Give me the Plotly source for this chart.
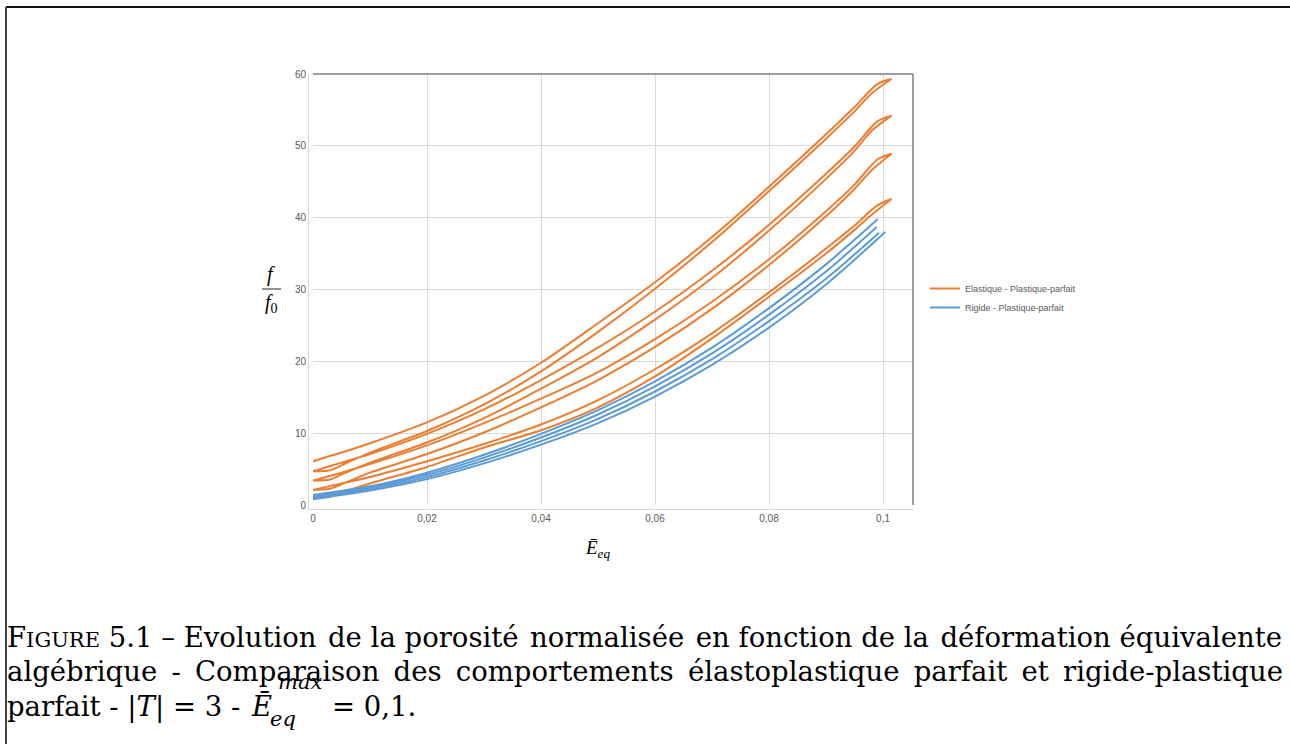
import plotly.graph_objects as go

# ---------------- data ----------------
x_load = [0, 0.003, 0.006, 0.01, 0.02, 0.03, 0.04, 0.05, 0.06, 0.07, 0.08, 0.09, 0.095, 0.098, 0.1015]
x_unload = [0.1015, 0.099, 0.095, 0.09, 0.08, 0.07, 0.06, 0.05, 0.04, 0.03, 0.02, 0.01, 0.005, 0]

ep_load_1 = [1.0, 1.15, 2.0, 3.0, 5.3, 8.0, 10.4, 13.6, 17.9, 23.2, 29.0, 35.0, 38.3, 40.4, 42.6]
ep_unload_1 = [42.6, 41.7, 38.9, 35.7, 29.6, 23.9, 18.9, 14.6, 11.2, 8.5, 6.1, 3.9, 3.0, 2.1]
ep_load_2 = [2.1, 2.25, 3.2, 4.5, 7.1, 10.1, 13.6, 17.4, 22.0, 27.3, 33.4, 40.2, 44.0, 46.6, 48.9]
ep_unload_2 = [48.9, 48.1, 44.6, 40.9, 34.2, 28.3, 23.1, 18.5, 14.8, 11.4, 8.3, 5.7, 4.5, 3.4]
ep_load_3 = [3.4, 3.55, 4.6, 5.9, 8.7, 12.1, 16.2, 20.6, 25.8, 31.6, 38.2, 45.4, 49.3, 52.1, 54.2]
ep_unload_3 = [54.2, 53.4, 49.9, 46.1, 39.0, 32.6, 26.9, 21.9, 17.4, 13.3, 9.9, 7.1, 5.9, 4.7]
ep_load_4 = [4.7, 4.85, 5.9, 7.3, 10.3, 14.0, 18.6, 24.1, 30.1, 36.6, 43.7, 51.0, 54.8, 57.3, 59.3]
ep_unload_4 = [59.3, 58.6, 55.4, 51.6, 44.3, 37.3, 31.0, 25.3, 19.8, 15.2, 11.5, 8.6, 7.3, 6.1]

x_rig_1 = [0, 0.01, 0.02, 0.03, 0.04, 0.05, 0.06, 0.07, 0.08, 0.09, 0.0991]
x_rig_2 = [0, 0.01, 0.02, 0.03, 0.04, 0.05, 0.06, 0.07, 0.08, 0.09, 0.0989]
x_rig_3 = [0, 0.01, 0.02, 0.03, 0.04, 0.05, 0.06, 0.07, 0.08, 0.09, 0.0993]
x_rig_4 = [0, 0.01, 0.02, 0.03, 0.04, 0.05, 0.06, 0.07, 0.08, 0.09, 0.1004]
rp_1 = [1.4, 2.6, 4.5, 7.0, 9.9, 13.2, 17.2, 21.9, 27.4, 33.5, 39.8]
rp_2 = [1.2, 2.4, 4.2, 6.6, 9.4, 12.6, 16.5, 21.1, 26.5, 32.5, 38.7]
rp_3 = [1.0, 2.2, 3.9, 6.2, 8.9, 12.0, 15.8, 20.3, 25.6, 31.5, 37.9]
rp_4 = [0.8, 2.0, 3.6, 5.8, 8.4, 11.4, 15.1, 19.5, 24.7, 30.7, 38.0]

x_tickvals = [0, 0.02, 0.04, 0.06, 0.08, 0.1]
x_ticktext = ["0", "0,02", "0,04", "0,06", "0,08", "0,1"]
y_tickvals = [0, 10, 20, 30, 40, 50, 60]

series_names = ["Elastique - Plastique-parfait", "Rigide - Plastique-parfait"]

# ---------------- build paths ----------------
ep_x, ep_y = [], []
for ld, ul in [(ep_load_1, ep_unload_1), (ep_load_2, ep_unload_2),
               (ep_load_3, ep_unload_3), (ep_load_4, ep_unload_4)]:
    ep_x += x_load + x_unload
    ep_y += ld + ul

rp_x, rp_y = [], []
for xs, ys in [(x_rig_1, rp_1), (x_rig_2, rp_2), (x_rig_3, rp_3), (x_rig_4, rp_4)]:
    rp_x += xs + [None]
    rp_y += ys + [None]

W, H = 1290, 744
L, R, T, B = 313, 913, 74, 505


def px(x):
    return (x - L) / (R - L)


def py(y):
    return (B - y) / (B - T)


fig = go.Figure()
fig.add_trace(go.Scatter(x=ep_x, y=ep_y, mode="lines", name=series_names[0],
                         line=dict(color="#ED7D31", width=2, shape="spline", smoothing=0.8)))
fig.add_trace(go.Scatter(x=rp_x, y=rp_y, mode="lines", name=series_names[1],
                         line=dict(color="#5B9BD5", width=2, shape="spline", smoothing=0.8)))

tick_font = dict(family="Liberation Sans, Arial, sans-serif", size=10, color="#595959")
fig.update_xaxes(range=[0, 0.10526], tickvals=x_tickvals, ticktext=x_ticktext,
                 showgrid=True, gridcolor="#D9D9D9", gridwidth=1,
                 zeroline=False, showline=True, linecolor="#D9D9D9", linewidth=1,
                 ticks="", tickfont=tick_font)
fig.update_yaxes(range=[0, 60], tickvals=y_tickvals,
                 showgrid=True, gridcolor="#D9D9D9", gridwidth=1,
                 zeroline=False, showline=True, linecolor="#D9D9D9", linewidth=1,
                 ticks="", tickfont=tick_font)

shapes = [
    # plot area top/right border
    dict(type="line", xref="paper", yref="paper", x0=0, x1=1, y0=1, y1=1,
         line=dict(color="#7F7F7F", width=1.5)),
    dict(type="line", xref="paper", yref="paper", x0=1, x1=1, y0=0, y1=1,
         line=dict(color="#7F7F7F", width=1.5)),
    # outer frame
    dict(type="line", xref="paper", yref="paper", x0=px(6), x1=px(1292), y0=py(7), y1=py(7),
         line=dict(color="#111111", width=2)),
    dict(type="line", xref="paper", yref="paper", x0=px(6), x1=px(6), y0=py(7), y1=py(746),
         line=dict(color="#444444", width=2)),
    # fraction bar of y title
    dict(type="line", xref="paper", yref="paper", x0=px(262), x1=px(281), y0=py(289), y1=py(289),
         line=dict(color="#222222", width=1)),
]

serif = "DejaVu Serif, Liberation Serif, serif"
math = "Liberation Serif, DejaVu Serif, serif"
ann = []


def add(text, x, y, size, family=serif, xanchor="left", yanchor="middle", color="#000000"):
    ann.append(dict(text=text, x=px(x), y=py(y), xref="paper", yref="paper", showarrow=False,
                    xanchor=xanchor, yanchor=yanchor,
                    font=dict(family=family, size=size, color=color)))


# y-axis title (fraction)
add("<i>f</i>", 271, 274, 20, math, xanchor="center")
add("<i>f</i><sub>0</sub>", 271, 303, 20, math, xanchor="center")
# x-axis title
add("<i>Ē</i><sub><i>eq</i></sub>", 598, 549, 19, math, xanchor="center")

# caption (justified look: thin/hair spaces widen the word gaps)
ts = "\u2009"
hs = "\u200a"
cap = 27.5
line1 = ("F<span style='font-size:21px'>IGURE</span> 5.1 – Evolution " + hs + "de la porosité " + hs +
         "normalisée " + hs + "en fonction de la " + hs + "déformation équivalente")
line2_words = ["algébrique", "-", "Comparaison", "des", "comportements",
               "élastoplastique", "parfait", "et", "rigide-plastique"]
line2 = (" " + ts).join(line2_words)
add(line1, 5, 637, cap)
add(line2, 5, 671, cap)
add("parfait - |<i>T</i>| = 3 -", 5, 706, cap)
add("<i>Ē</i>", 249, 706, cap)
add("<i>max</i>", 276, 682, 21)
add("<i>eq</i>", 268, 719, 21)
add("= 0,1.", 330, 706, cap)

fig.update_layout(
    width=W, height=H,
    margin=dict(l=L, r=W - R, t=T, b=H - B, pad=4),
    paper_bgcolor="white", plot_bgcolor="white",
    showlegend=True,
    legend=dict(x=px(925), y=py(274), xanchor="left", yanchor="top",
                font=dict(family="Liberation Sans, Arial, sans-serif", size=9, color="#595959"),
                bgcolor="rgba(0,0,0,0)", itemwidth=30, tracegroupgap=0),
    shapes=shapes, annotations=ann,
)

fig.write_html("out.html", config={"displayModeBar": False},
               post_script="document.body.style.margin='0px';document.body.style.padding='0px';")
